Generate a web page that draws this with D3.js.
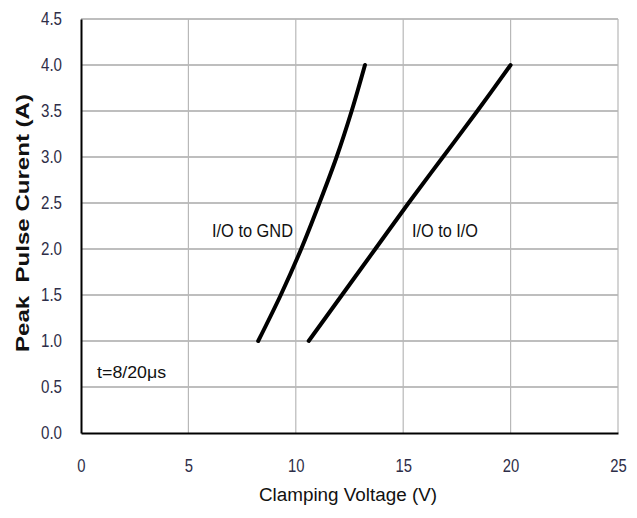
<!DOCTYPE html>
<html><head><meta charset="utf-8">
<script src="https://cdn.jsdelivr.net/npm/d3@7"></script>
<style>body{margin:0;background:#fff}</style>
</head><body>
<svg id="c" width="637" height="518"></svg>
<script>
const xTicks = [0, 5, 10, 15, 20, 25];
const yTicks = [0.0, 0.5, 1.0, 1.5, 2.0, 2.5, 3.0, 3.5, 4.0, 4.5];
const current = [1.0, 1.5, 2.0, 2.5, 3.0, 3.5, 4.0];
const ioToGnd = [8.25, 9.3, 10.25, 11.1, 11.9, 12.6, 13.22];
const ioToIo = [10.6, 12.15, 13.7, 15.25, 16.85, 18.45, 20.0];
const seriesNames = ["I/O to GND", "I/O to I/O"];
const labelPos = [[6.1, 2.2], [15.41, 2.2]];
const note = "t=8/20μs";

const svg = d3.select("#c");
const x = d3.scaleLinear().domain([0, 25]).range([81, 618]);
const y = d3.scaleLinear().domain([0, 4.5]).range([433, 19]);
const font = "'Liberation Sans', Arial, sans-serif";
const tickColor = "#2e2e48";

function fitWidth(sel, f) {
  sel.each(function (d, i) {
    const w = this.getComputedTextLength();
    const t = typeof f === "function" ? f(w, i) : w * f;
    d3.select(this).attr("textLength", t).attr("lengthAdjust", "spacingAndGlyphs");
  });
}

// grid
svg.append("g").selectAll("line").data(yTicks.slice(1)).join("line")
  .attr("x1", x(0)).attr("x2", x(25)).attr("y1", d => y(d)).attr("y2", d => y(d))
  .attr("stroke", "#a8a8a8").attr("stroke-width", 1.6);
svg.append("g").selectAll("line").data(xTicks.slice(1)).join("line")
  .attr("y1", y(0)).attr("y2", y(4.5)).attr("x1", d => x(d)).attr("x2", d => x(d))
  .attr("stroke", "#b8b8b8").attr("stroke-width", 1.2);

// axes
const xAxis = d3.axisBottom(x).tickValues(xTicks).tickSize(0).tickPadding(26).tickFormat(d3.format("d"));
const gx = svg.append("g").attr("transform", `translate(0,${y(0)})`).call(xAxis);
gx.select(".domain").attr("stroke", "#000").attr("stroke-width", 2);
gx.selectAll("text").attr("font-family", font).attr("font-size", 19).attr("fill", tickColor).call(fitWidth, 0.78);

const yAxis = d3.axisLeft(y).tickValues(yTicks).tickSize(0).tickPadding(19).tickFormat(d3.format(".1f"));
const gy = svg.append("g").attr("transform", `translate(${x(0)},0)`).call(yAxis);
gy.select(".domain").attr("stroke", "#000").attr("stroke-width", 2);
gy.selectAll("text").attr("font-family", font).attr("font-size", 18).attr("fill", tickColor).call(fitWidth, 0.84);

// lines
const line = d3.line().x(d => x(d[0])).y(d => y(d[1])).curve(d3.curveCatmullRom);
[ioToGnd, ioToIo].forEach(s => {
  svg.append("path").datum(s.map((v, i) => [v, current[i]]))
    .attr("d", line).attr("fill", "none").attr("stroke", "#000")
    .attr("stroke-width", 4).attr("stroke-linecap", "round").attr("stroke-linejoin", "round");
});

// series labels
const labelWidths = [81, 66];
svg.append("g").selectAll("text").data(seriesNames).join("text")
  .attr("x", (d, i) => x(labelPos[i][0])).attr("y", (d, i) => y(labelPos[i][1]))
  .attr("dominant-baseline", "central")
  .attr("font-family", font).attr("font-size", 18).attr("fill", "#111").text(d => d)
  .attr("textLength", (d, i) => labelWidths[i]).attr("lengthAdjust", "spacingAndGlyphs");

svg.append("text").attr("x", x(0.75)).attr("y", y(0.66)).attr("dominant-baseline", "central")
  .attr("font-family", font).attr("font-size", 16).attr("fill", "#111").text(note)
  .attr("textLength", 69).attr("lengthAdjust", "spacingAndGlyphs");

// titles
svg.append("text").attr("x", 348).attr("y", 501).attr("text-anchor", "middle")
  .attr("font-family", font).attr("font-size", 18).attr("fill", "#111")
  .text("Clamping Voltage (V)")
  .attr("textLength", 178).attr("lengthAdjust", "spacingAndGlyphs");
svg.append("text").attr("transform", "translate(29,223) rotate(-90)").attr("text-anchor", "middle")
  .attr("font-family", font).attr("font-size", 19).attr("font-weight", "bold")
  .attr("fill", "#111").style("white-space", "pre")
  .text("Peak  Pulse Curent (A)")
  .attr("textLength", 258).attr("lengthAdjust", "spacingAndGlyphs");
</script>
</body></html>
